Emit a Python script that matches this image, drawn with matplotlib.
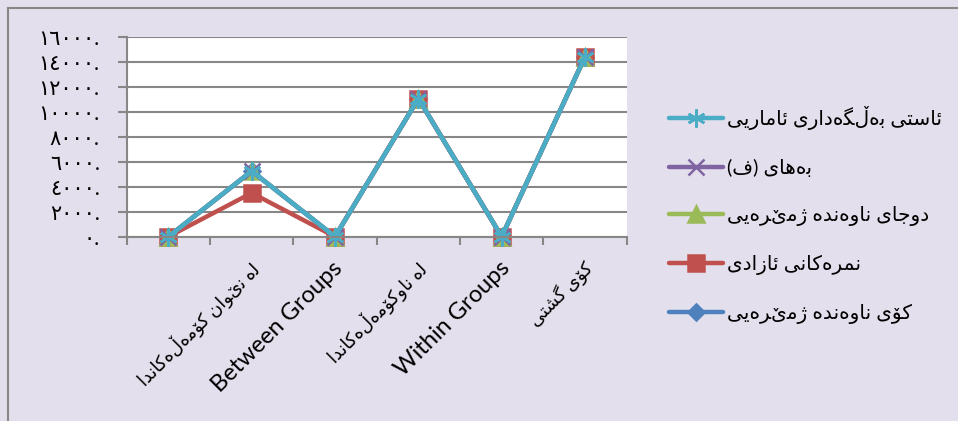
import numpy as np
import matplotlib
matplotlib.use('Agg')
import matplotlib.pyplot as plt
from matplotlib import font_manager, ft2font
from matplotlib.lines import Line2D
from matplotlib.transforms import ScaledTranslation

# categories along the x axis (first one has no label in the source)
categories = ['', 'لە نێوان کۆمەڵەکاندا', 'Between Groups', 'لە ناوکۆمەڵەکاندا',
              'Within Groups', 'کۆی گشتی']

# series values
sig_level = [0, 5250, 0, 11050, 0, 14400]      # ئاستی بەڵگەداری ئاماریی
f_value = [0, 5250, 0, 11050, 0, 14400]        # بەهای (ف)
mean_square = [0, 5250, 0, 11050, 0, 14400]    # دوجای ناوەندە ژمێرەیی
dof = [0, 3500, 0, 11050, 0, 14400]            # نمرەکانی ئازادی
sum_squares = [0, 5250, 0, 11050, 0, 14400]    # کۆی ناوەندە ژمێرەیی

series_names = ['ئاستی بەڵگەداری ئاماریی', 'بەهای (ف)', 'دوجای ناوەندە ژمێرەیی',
                'نمرەکانی ئازادی', 'کۆی ناوەندە ژمێرەیی']

yticks = [0, 2000, 4000, 6000, 8000, 10000, 12000, 14000, 16000]
ytick_labels = ['٠.', '٢٠٠٠.', '٤٠٠٠.', '٦٠٠٠.', '٨٠٠٠.', '١٠٠٠٠.', '١٢٠٠٠.', '١٤٠٠٠.', '١٦٠٠٠.']

# --- minimal arabic shaping: matplotlib 3.10 does no joining / bidi ---
DUAL = set('ئبتجسشفلمنهکگیڵێ')
RIGHT = set('اآدذرزژوۆە')
FORMS = {
    'ئ': '\uFE89\uFE8A\uFE8B\uFE8C', 'ب': '\uFE8F\uFE90\uFE91\uFE92',
    'ت': '\uFE95\uFE96\uFE97\uFE98', 'ج': '\uFE9D\uFE9E\uFE9F\uFEA0',
    'س': '\uFEB1\uFEB2\uFEB3\uFEB4', 'ش': '\uFEB5\uFEB6\uFEB7\uFEB8',
    'ف': '\uFED1\uFED2\uFED3\uFED4', 'ل': '\uFEDD\uFEDE\uFEDF\uFEE0',
    'م': '\uFEE1\uFEE2\uFEE3\uFEE4', 'ن': '\uFEE5\uFEE6\uFEE7\uFEE8',
    'ه': '\uFEE9\uFEEA\uFEEB\uFEEC', 'ک': '\uFB8E\uFB8F\uFB90\uFB91',
    'گ': '\uFB92\uFB93\uFB94\uFB95', 'ی': '\uFBFC\uFBFD\uFBFE\uFBFF',
    'ا': '\uFE8D\uFE8E', 'د': '\uFEA9\uFEAA', 'ر': '\uFEAD\uFEAE',
    'ز': '\uFEAF\uFEB0', 'ژ': '\uFB8A\uFB8B', 'و': '\uFEED\uFEEE',
    'ۆ': '\uFBD9\uFBDA',
}

_path = font_manager.findfont(font_manager.FontProperties(family='DejaVu Sans'))
_cmap = ft2font.FT2Font(_path).get_charmap()


def is_arabic(text):
    return any(c in DUAL or c in RIGHT for c in text)


def shape(text):
    if not is_arabic(text):
        return text
    out = []
    for i, c in enumerate(text):
        prev = text[i - 1] if i > 0 else ''
        nxt = text[i + 1] if i + 1 < len(text) else ''
        join_prev = prev in DUAL
        join_next = c in DUAL and (nxt in DUAL or nxt in RIGHT)
        idx = 3 if (join_prev and join_next) else 1 if join_prev else 2 if join_next else 0
        forms = FORMS.get(c, '')
        if idx >= len(forms):
            idx = 1 if (join_prev and len(forms) > 1) else 0
        form = forms[idx] if idx < len(forms) else c
        out.append(form if ord(form) in _cmap else c)
    return ''.join(reversed(out)).translate(str.maketrans('()', ')('))


plt.rcParams['font.family'] = ['Lato', 'DejaVu Sans']

BG = '#E4DFEC'
GRID = '#878787'

fig = plt.figure(figsize=(9.58, 4.21), dpi=100, facecolor=BG)
ax = fig.add_axes([126.7 / 958, 1 - 236.7 / 421, 500 / 958, 200 / 421])
ax.set_facecolor('white')

x = np.arange(len(categories))
styles = [
    (sum_squares, '#4F81BD', 'D', 8),
    (dof, '#C0504D', 's', 12),
    (mean_square, '#9BBB59', '^', 11),
    (f_value, '#8064A2', 'x', 11),
    (sig_level, '#4BACC6', (6, 2, 0), 13),
]
lines = []
for vals, col, mk, ms in styles:
    ln, = ax.plot(x, vals, color=col, lw=3.2, marker=mk, ms=ms, mew=1.8,
                  mfc=col, mec=col, solid_capstyle='round', clip_on=False)
    lines.append(ln)

ax.set_xlim(-0.5, 5.5)
ax.set_ylim(0, 16000)
ax.set_yticks(yticks)
ax.set_yticklabels(ytick_labels, fontsize=15)
ax.tick_params(axis='y', length=6.5, width=1.5, color=GRID, pad=13)
ax.yaxis.grid(True, color=GRID, lw=1.5)
ax.set_axisbelow(True)

ax.set_xticks(x)
ax.set_xticklabels([shape(c) for c in categories], rotation=45, ha='right',
                   va='top', rotation_mode='anchor')
ax.tick_params(axis='x', which='major', length=0, pad=15)
ax.set_xticks(np.arange(-0.5, 6), minor=True)
ax.tick_params(axis='x', which='minor', length=6, width=1.5, color=GRID)
offset = ScaledTranslation(-3 / 100, 0, fig.dpi_scale_trans)
for lab, name in zip(ax.get_xticklabels(), categories):
    lab.set_fontsize(13 if is_arabic(name) else 17)
    lab.set_transform(lab.get_transform() + offset)

for s in ['top', 'right']:
    ax.spines[s].set_visible(False)
for s in ['left', 'bottom']:
    ax.spines[s].set_color(GRID)
    ax.spines[s].set_linewidth(1.5)

# legend in the same order as the source (top to bottom)
order = [4, 3, 2, 1, 0]
fig.legend([lines[i] for i in order], [shape(n) for n in series_names],
           loc='upper left', bbox_to_anchor=(659 / 958, 1 - 96 / 421),
           frameon=False, fontsize=14.5, handlelength=2.7, handletextpad=0.2,
           labelspacing=1.43, borderpad=0)

# outer frame (only top/left edges are visible in the source)
fig.add_artist(Line2D([7.5 / 958, 7.5 / 958], [0, 1 - 7.5 / 421], color=GRID, lw=1.5))
fig.add_artist(Line2D([7.5 / 958, 1], [1 - 7.5 / 421, 1 - 7.5 / 421], color=GRID, lw=1.5))

fig.savefig('out.png', dpi=100, facecolor=BG)
